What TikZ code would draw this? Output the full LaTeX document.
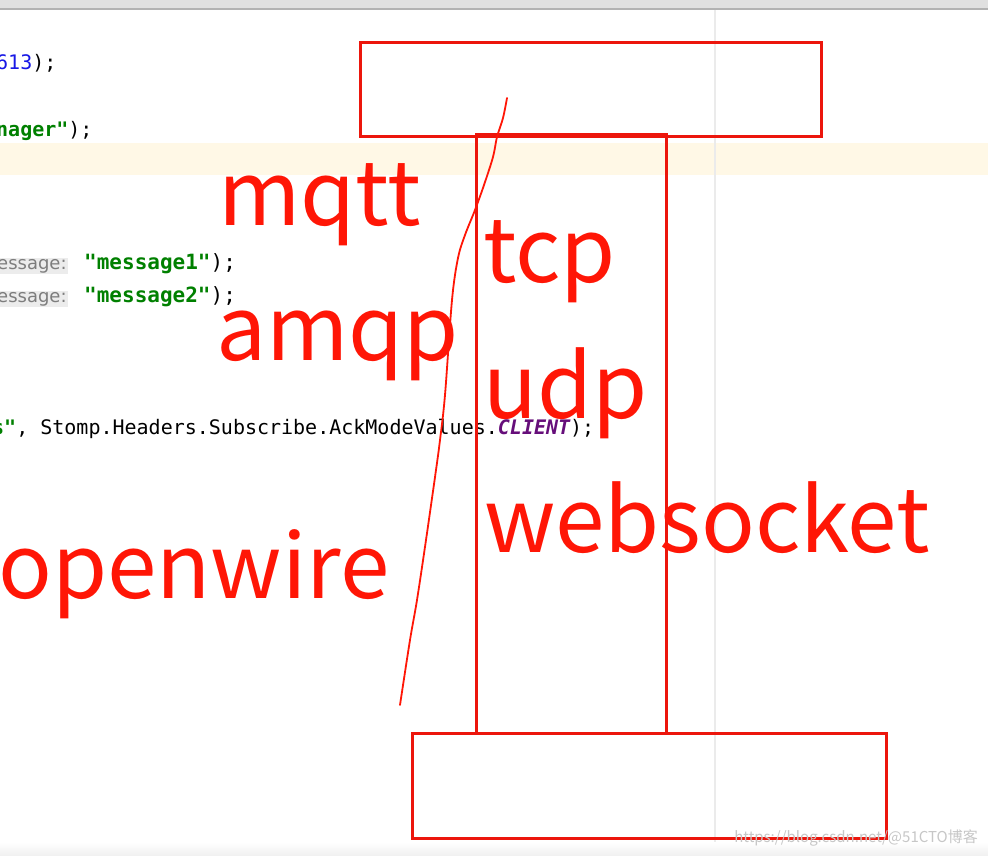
\documentclass[tikz,border=0pt]{standalone}
\usepackage{fontspec}
\usepackage{xcolor}
\usetikzlibrary{positioning}
\newfontfamily\notocjk{Noto Sans CJK SC}
\newfontfamily\codefont{DejaVu Sans Mono}
\newfontfamily\hintfont{DejaVu Sans}
\definecolor{inkred}{RGB}{255,22,6}
\definecolor{boxred}{RGB}{236,22,12}
\definecolor{strgreen}{RGB}{0,128,0}
\definecolor{numblue}{RGB}{24,24,230}
\definecolor{constpurple}{RGB}{102,14,122}
\definecolor{hintgray}{RGB}{125,125,125}
\definecolor{hintbg}{RGB}{236,236,236}
\definecolor{caretline}{RGB}{255,248,230}

\begin{document}
\begin{tikzpicture}[
  x=1pt, y=-1pt,
  code/.style={anchor=base west, inner sep=0pt, font=\codefont\fontsize{20}{24}\selectfont},
  hint/.style={anchor=base west, inner sep=1pt, fill=hintbg, text=hintgray,
    font=\hintfont\fontsize{18}{20}\selectfont},
  redword/.style={anchor=base west, inner sep=0pt, text=inkred,
    font=\notocjk\fontsize{89}{96}\selectfont},
  redbox/.style={draw=boxred, line width=3pt, inner sep=0pt},
  scribble/.style={draw=inkred, line width=1.8pt, line cap=round, line join=round}
]
\useasboundingbox (0,0) rectangle (988,856);
\clip (0,0) rectangle (988,856);

% editor background
\fill[white] (0,0) rectangle (988,856);
\fill[black!12] (0,0) rectangle (988,8);
\fill[black!30] (0,8) rectangle (988,10);
\fill[caretline] (0,143) rectangle (988,175);
\fill[black!8] (714,10) rectangle (716,856);
\shade[top color=white, bottom color=black!6] (0,842) rectangle (988,856);

% code lines
\node[code] (ln1) at (-4,70) {\textcolor{numblue}{613});};
\node[code] (ln2) at (-4,137) {\textcolor{strgreen}{\bfseries nager"});};
\node[hint] (hn3) at (-4,269) {essage:\hspace{16pt}};
\node[code, font=\codefont\fontsize{21}{24}\selectfont] (ln3) at (84,269)
  {\textcolor{strgreen}{\bfseries "message1"});};
\node[hint] (hn4) at (-4,302) {essage:\hspace{16pt}};
\node[code, font=\codefont\fontsize{21}{24}\selectfont] (ln4) at (84,302)
  {\textcolor{strgreen}{\bfseries "message2"});};
\node[code] (ln5) at (-8,434)
  {\textcolor{strgreen}{\bfseries s"}, Stomp.Headers.Subscribe.AckModeValues.\textcolor{constpurple}{\bfseries\itshape CLIENT});};

% red boxes
\node[redbox, minimum width=461pt, minimum height=94pt] (topbox) at (590.5,90) {};
\node[redbox, minimum width=190pt, minimum height=598pt] (pillar) at (571,434) {};
\node[redbox, minimum width=474pt, minimum height=105pt] (basebox) at (649,785.5) {};

% red words
\node[redword] (mqtt) at (218,225) {mqtt};
\node[redword] (amqp) at (216,360) {amqp};
\node[redword] (openwire) at (-2,598) {openwire};
\node[redword] (tcp) at (483,282) {tcp};
\node[redword] (udp) at (483,418) {udp};
\node[redword] (websocket) at (484,552) {websocket};

% dividing stroke
\draw[scribble] plot[smooth, tension=0.55] coordinates {(507,98) (503,118) (497,137) (493,157)
  (484,185) (475,210) (465,235) (458,258) (452,300) (445,395) (440,440) (436,470)
  (426,540) (417,600) (410,640) (400,705)};

% watermark
\node[anchor=east, inner sep=0pt, text=black!22, font=\notocjk\fontsize{15}{16}\selectfont]
  (mark) at (978,838) {https://blog.csdn.net/@51CTO博客};
\end{tikzpicture}
\end{document}
